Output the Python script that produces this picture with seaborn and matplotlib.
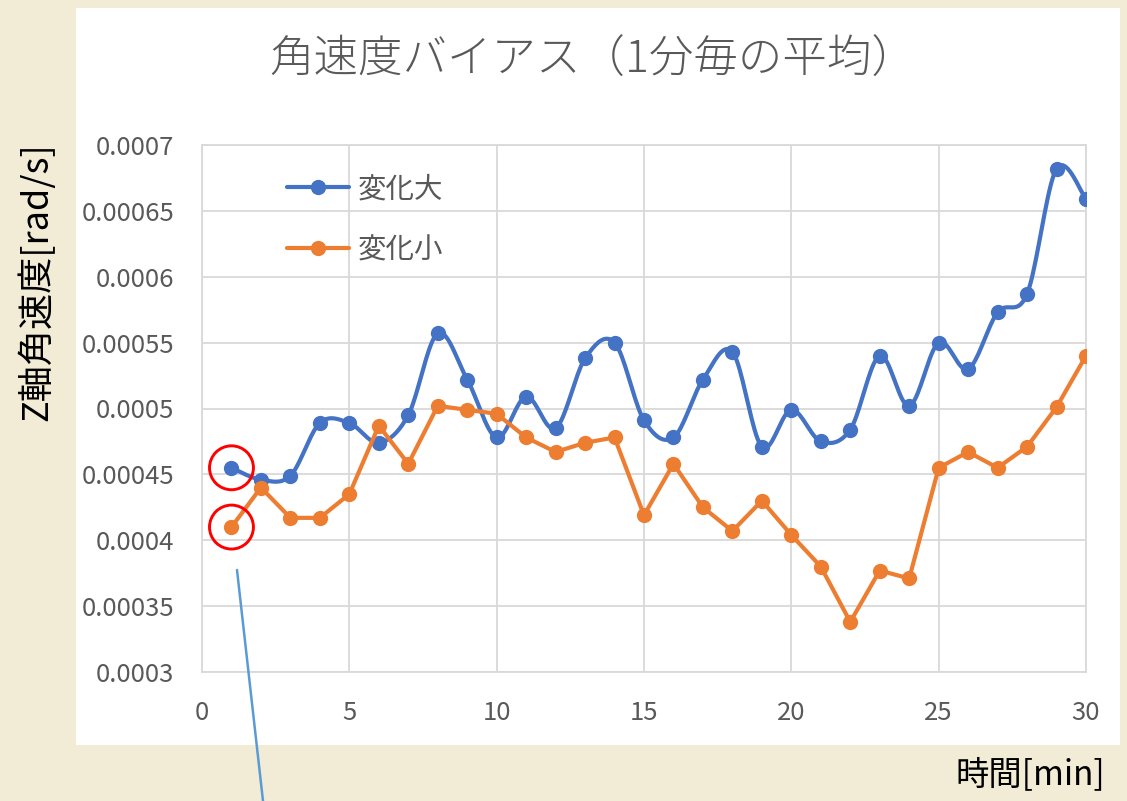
import numpy as np
import pandas as pd
import matplotlib
matplotlib.use("Agg")
import matplotlib.pyplot as plt
import seaborn as sns
from matplotlib.lines import Line2D
from matplotlib.patches import Rectangle

# ============================================================
# Data
# ============================================================
minutes = list(range(1, 31))
big_change = [0.000455, 0.000446, 0.000449, 0.000489, 0.000489, 0.000474, 0.000495,
              0.000557, 0.000522, 0.000478, 0.000509, 0.000485, 0.000538, 0.000550,
              0.000491, 0.000478, 0.000522, 0.000543, 0.000471, 0.000499, 0.000475,
              0.000484, 0.000540, 0.000502, 0.000550, 0.000530, 0.000573, 0.000587,
              0.000682, 0.000659]
small_change = [0.000410, 0.000440, 0.000417, 0.000417, 0.000435, 0.000487, 0.000458,
                0.000502, 0.000499, 0.000496, 0.000478, 0.000467, 0.000474, 0.000478,
                0.000419, 0.000458, 0.000425, 0.000407, 0.000430, 0.000404, 0.000380,
                0.000338, 0.000377, 0.000371, 0.000455, 0.000467, 0.000455, 0.000471,
                0.000501, 0.000540]
series_names = ["変化大", "変化小"]
x_ticks = [0, 5, 10, 15, 20, 25, 30]
y_ticks = [0.0003, 0.00035, 0.0004, 0.00045, 0.0005, 0.00055, 0.0006, 0.00065, 0.0007]
y_tick_labels = ["0.0003", "0.00035", "0.0004", "0.00045", "0.0005",
                 "0.00055", "0.0006", "0.00065", "0.0007"]

title = "角速度バイアス（1分毎の平均）"
x_label = "時間[min]"
y_label = "Z軸角速度[rad/s]"

BLUE = "#4472C4"
ORANGE = "#ED7D31"
GRAY_TXT = "#595959"
GRID = "#d9d9d9"
BG = "#f2ecd6"


def smooth_curve(xs, ys, steps=20):
    # Catmull-Rom style smoothing, similar to Excel's "smoothed line"
    xs = np.asarray(xs, float)
    ys = np.asarray(ys, float)
    px = np.concatenate([[xs[0]], xs, [xs[-1]]])
    py = np.concatenate([[ys[0]], ys, [ys[-1]]])
    out_x, out_y = [], []
    t = np.linspace(0, 1, steps, endpoint=False)
    for i in range(1, len(px) - 2):
        for arr, out in ((px, out_x), (py, out_y)):
            p0, p1, p2, p3 = arr[i - 1], arr[i], arr[i + 1], arr[i + 2]
            seg = 0.5 * ((2 * p1) + (-p0 + p2) * t
                         + (2 * p0 - 5 * p1 + 4 * p2 - p3) * t ** 2
                         + (-p0 + 3 * p1 - 3 * p2 + p3) * t ** 3)
            out.extend(seg)
    out_x.append(xs[-1])
    out_y.append(ys[-1])
    return np.array(out_x), np.array(out_y)


df = pd.DataFrame({"minute": minutes, "big": big_change, "small": small_change})
sx, sy = smooth_curve(df["minute"], df["big"])
smooth_df = pd.DataFrame({"minute": sx, "big": sy})

# ============================================================
# Figure
# ============================================================
sns.set_theme(style="white")
plt.rcParams["font.family"] = ["Noto Sans CJK JP", "DejaVu Sans"]

fig = plt.figure(figsize=(11.27, 8.01), dpi=100, facecolor=BG)
fig.patches.append(Rectangle((76 / 1127, 1 - 745 / 801), (1120 - 76) / 1127, (745 - 8) / 801,
                             transform=fig.transFigure, facecolor="white",
                             edgecolor="none", zorder=-10))
ax = fig.add_axes([202 / 1127, 1 - 672 / 801, (1086 - 202) / 1127, (672 - 145) / 801])
ax.set_zorder(1)
ax.set_facecolor("white")

LW = 3.0
MS = 11

# blue series: smoothed line + markers
sns.lineplot(data=smooth_df, x="minute", y="big", ax=ax, color=BLUE, linewidth=LW,
             zorder=3, sort=False)
sns.scatterplot(data=df, x="minute", y="big", ax=ax, color=BLUE, s=MS ** 2,
                edgecolor=BLUE, linewidth=0, zorder=4)
# orange series: straight segments with markers
sns.lineplot(data=df, x="minute", y="small", ax=ax, color=ORANGE, linewidth=LW,
             marker="o", markersize=MS, markeredgewidth=0, zorder=5)

# red circles around first points
ax.scatter([minutes[0], minutes[0]], [big_change[0], small_change[0]], s=1000,
           facecolors="none", edgecolors="red", linewidths=2.1, zorder=6, clip_on=False)

ax.set_xlim(0, 30)
ax.set_ylim(0.0003, 0.0007)
ax.set_xticks(x_ticks)
ax.set_yticks(y_ticks)
ax.set_yticklabels(y_tick_labels)
ax.tick_params(axis="both", length=0, labelsize=18.5, labelcolor=GRAY_TXT)
ax.tick_params(axis="y", pad=20)
ax.tick_params(axis="x", pad=20)
ax.grid(True, color=GRID, linewidth=1.3)
for sp in ax.spines.values():
    sp.set_color(GRID)
    sp.set_linewidth(1.3)
ax.set_xlabel("")
ax.set_ylabel("")

handles = [Line2D([], [], color=BLUE, linewidth=LW, marker="o", markersize=MS,
                  markeredgewidth=0),
           Line2D([], [], color=ORANGE, linewidth=LW, marker="o", markersize=MS,
                  markeredgewidth=0)]
leg = ax.legend(handles, series_names, loc="upper left", bbox_to_anchor=(0.083, 0.966),
                frameon=False, fontsize=20.5, handlelength=2.2, handletextpad=0.3,
                labelspacing=1.08, borderaxespad=0)
for t in leg.get_texts():
    t.set_color(GRAY_TXT)

fig.text(593 / 1127, 1 - 60 / 801, title, ha="center", va="center",
         fontsize=32, color=GRAY_TXT, fontweight="light")
fig.text(36 / 1127, 1 - 282 / 801, y_label, ha="center", va="center",
         rotation=90, fontsize=26, color="black")
fig.text(1105 / 1127, 1 - 775 / 801, x_label, ha="right", va="center",
         fontsize=24, color="black")

# annotation pointer line from the circles downwards
fig.add_artist(Line2D([237 / 1127, 263 / 1127], [1 - 570 / 801, 0.0],
                      transform=fig.transFigure, color="#5B9BD5", linewidth=1.8))

plt.savefig("out.png", dpi=100, facecolor=BG)
